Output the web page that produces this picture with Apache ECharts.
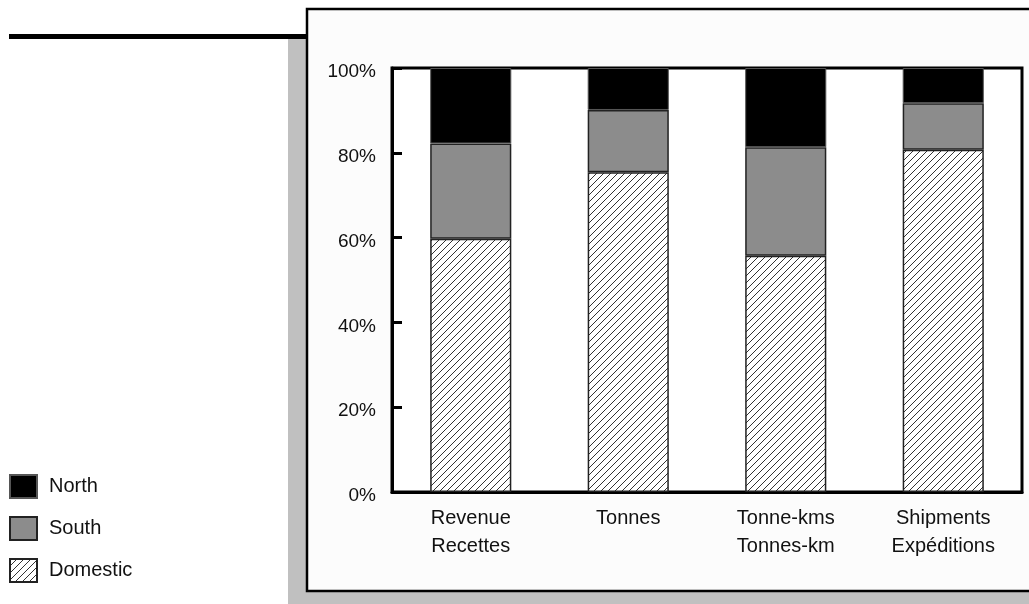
<!DOCTYPE html>
<html><head><meta charset="utf-8">
<script src="https://cdn.jsdelivr.net/npm/echarts@6/dist/echarts.min.js"></script>
<style>html,body{margin:0;padding:0;background:#fff}#c{width:1029px;height:604px}</style>
</head><body><div id="c"></div>
<script>
const categories = ['Revenue\nRecettes', 'Tonnes', 'Tonne-kms\nTonnes-km', 'Shipments\nExpéditions'];
const domestic = [59.7, 75.4, 55.7, 80.7];
const south = [22.5, 14.7, 25.6, 11.0];
const north = [17.8, 9.9, 18.7, 8.3];
const yTicks = [0, 20, 40, 60, 80, 100];

function hatch() {
  const s = 7;
  const c = document.createElement('canvas');
  c.width = s; c.height = s;
  const g = c.getContext('2d');
  g.fillStyle = '#ffffff'; g.fillRect(0, 0, s, s);
  g.strokeStyle = '#333333'; g.lineWidth = 1;
  g.beginPath();
  g.moveTo(-1, s + 1); g.lineTo(s + 1, -1);
  g.moveTo(-1, 1); g.lineTo(1, -1);
  g.moveTo(s - 1, s + 1); g.lineTo(s + 1, s - 1);
  g.stroke();
  return c;
}
const pat = { image: hatch(), repeat: 'repeat' };

const chart = echarts.init(document.getElementById('c'), null, { renderer: 'canvas' });
const font = 'Liberation Sans, Arial, sans-serif';
chart.setOption({
  animation: false,
  backgroundColor: '#ffffff',
  graphic: [
    { type: 'rect', z: -10, shape: { x: 288, y: 39, width: 800, height: 600 }, style: { fill: '#c0c0c0' } },
    { type: 'rect', z: -9, shape: { x: 307, y: 9, width: 800, height: 582 }, style: { fill: '#fcfcfc', stroke: '#000', lineWidth: 2.5 } },
    { type: 'rect', z: -9, shape: { x: 9, y: 34, width: 297, height: 5 }, style: { fill: '#000' } }
  ],
  legend: {
    orient: 'vertical', left: 9, top: 474, padding: 0, icon: 'rect', itemWidth: 27, itemHeight: 23, itemGap: 17,
    data: ['North', 'South', 'Domestic'],
    textStyle: { fontFamily: font, fontSize: 20, color: '#111', padding: [0, 0, 0, 7] },
    selectedMode: false
  },
  grid: { left: 392, top: 68, right: 7, bottom: 112, show: true, backgroundColor: '#ffffff', borderColor: '#000', borderWidth: 3 },
  xAxis: {
    type: 'category', data: categories,
    axisLine: { show: true, lineStyle: { color: '#000', width: 3 } },
    axisTick: { show: false },
    axisLabel: { fontFamily: font, fontSize: 20, color: '#111', lineHeight: 28, margin: 12 }
  },
  yAxis: {
    type: 'value', min: 0, max: 100, interval: 20,
    axisLine: { show: true, lineStyle: { color: '#000', width: 3 } },
    axisTick: { show: true, inside: true, length: 10, lineStyle: { color: '#000', width: 3 } },
    splitLine: { show: false },
    axisLabel: { fontFamily: font, fontSize: 19, color: '#111', margin: 16,
      formatter: v => yTicks.includes(v) ? '{s|}\n{a|' + v + '%}' : '',
      rich: {
        s: { lineHeight: 8, fontSize: 1 },
        a: { lineHeight: 22, fontFamily: font, fontSize: 19, color: '#111' }
      }
    }
  },
  series: [
    { name: 'Domestic', type: 'bar', stack: 's', data: domestic, barWidth: '51.5%',
      itemStyle: { color: pat, borderColor: '#222', borderWidth: 1.5 } },
    { name: 'South', type: 'bar', stack: 's', data: south,
      itemStyle: { color: '#8c8c8c', borderColor: '#222', borderWidth: 1.5 } },
    { name: 'North', type: 'bar', stack: 's', data: north,
      itemStyle: { color: '#000000', borderColor: '#555', borderWidth: 1 } }
  ]
});
</script></body></html>
